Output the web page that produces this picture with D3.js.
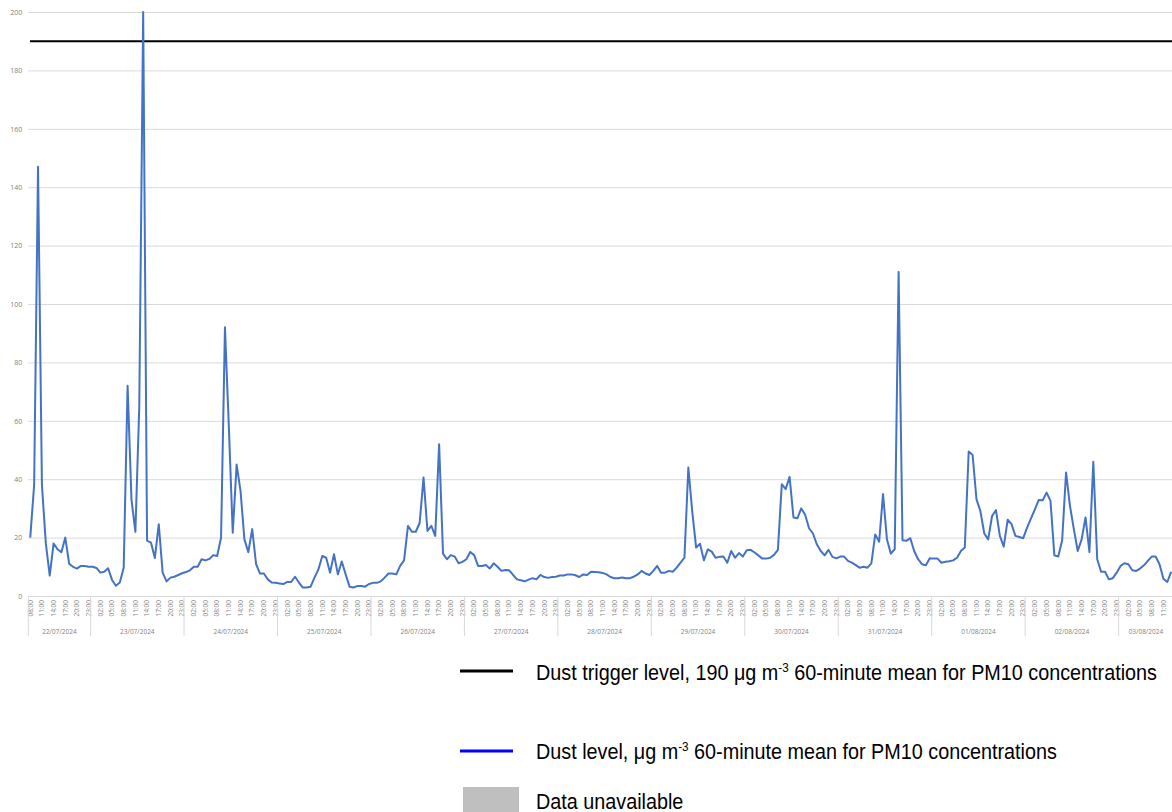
<!DOCTYPE html>
<html>
<head>
<meta charset="utf-8">
<script src="https://cdn.jsdelivr.net/npm/d3@7"></script>
<style>
  body { margin: 0; background: #fff; }
  svg text { font-family: "Open Sans", "Liberation Sans", sans-serif; }
  .legend text { font-family: "Liberation Sans", Arial, sans-serif; }
</style>
</head>
<body>
<div id="container"></div>
<script>
// categories: one point per hour, 22/07/2024 08:00 -> 03/08/2024 13:00
const days = ["22/07/2024","23/07/2024","24/07/2024","25/07/2024","26/07/2024","27/07/2024",
              "28/07/2024","29/07/2024","30/07/2024","31/07/2024","01/08/2024","02/08/2024","03/08/2024"];
const firstHour = 8;            // first day starts at 08:00
const hoursPerDay = [16,24,24,24,24,24,24,24,24,24,24,24,14];
const hourLabelEvery = 3;

// PM10 60-minute mean (ug/m3), hour by hour
const dustLevel = [
  // 22/07
  20, 38, 147, 38, 18, 7, 18, 16, 15, 20, 11, 10, 9.4, 10.3, 10.3, 10,
  // 23/07
  10, 9.6, 8, 8.3, 9.5, 5.5, 3.5, 4.6, 9.7, 72, 33, 22, 65, 200, 19, 18.3,
  13, 24.6, 8, 5, 6.3, 6.6, 7.2, 7.8,
  // 24/07
  8.2, 8.8, 10, 10, 12.6, 12.2, 12.7, 14, 13.7, 20, 92, 58, 21.7, 45, 36, 19.4,
  15, 22.9, 10.9, 7.7, 7.7, 5.7, 4.6, 4.5,
  // 25/07
  4.3, 4.1, 4.8, 4.8, 6.6, 4.6, 2.9, 2.9, 3.2, 6.3, 9.1, 13.7, 13.1, 8, 14.3, 7.4,
  11.8, 7.4, 3.2, 2.9, 3.4, 3.4, 3.2, 4.1,
  // 26/07
  4.5, 4.5, 5, 6.3, 7.7, 7.7, 7.4, 10.3, 12.2, 24, 22, 22, 25, 40.6, 22.3, 24,
  20.6, 52, 14.5, 12.6, 14, 13.5, 11.2, 11.7,
  // 27/07
  12.6, 15.1, 14, 10.3, 10.3, 10.6, 9.4, 11.2, 10, 8.6, 8.9, 8.8, 7.2, 5.7, 5.4, 5,
  5.6, 6.1, 5.7, 7.2, 6.5, 6.2, 6.5, 6.6,
  // 28/07
  7, 7, 7.4, 7.4, 7.1, 6.5, 7.4, 7.2, 8.3, 8.2, 8.1, 7.9, 7.4, 6.5, 6.1, 6.1,
  6.3, 6.1, 6.1, 6.6, 7.4, 8.6, 7.7, 7.2,
  // 29/07
  8.6, 10.3, 8, 8, 8.6, 8.3, 9.7, 11.4, 13.1, 44, 29, 16.6, 17.9, 12.2, 16, 15.2,
  13.1, 13.4, 13.5, 11.4, 15.4, 13.1, 14.7, 13.5,
  // 30/07
  15.7, 15.8, 14.9, 13.9, 12.8, 12.8, 13.1, 14.1, 15.8, 38.3, 36.6, 40.8, 26.9, 26.6, 30, 27.8,
  23.2, 21.4, 17.7, 15.4, 13.9, 15.8, 13.4, 12.9,
  // 31/07
  13.5, 13.5, 12, 11.4, 10.6, 9.7, 10, 9.7, 11.2, 21.1, 18.6, 34.9, 19.4, 14.5, 16, 111,
  19.1, 18.9, 19.8, 15.4, 12.6, 10.9, 10.5, 12.9,
  // 01/08
  12.8, 12.8, 11.4, 11.7, 11.9, 12.2, 13.1, 15.4, 16.6, 49.5, 48.3, 33.1, 29.1, 21.4, 19.4, 27.4,
  29.4, 20.6, 16.9, 26.1, 24.6, 20.6, 20.2, 19.8,
  // 02/08
  23.4, 26.6, 29.7, 32.9, 32.8, 35.4, 32.6, 13.9, 13.5, 19.1, 42.3, 30.9, 22.9, 15.4, 19.4, 26.9,
  15.1, 46, 12.6, 8.3, 8.3, 5.7, 6.1, 8,
  // 03/08
  10.3, 11.2, 10.9, 8.8, 8.6, 9.4, 10.5, 12, 13.5, 13.5, 10.9, 5.9, 4.8, 8.3
];
const triggerLevel = 190;
const yTicks = [0,20,40,60,80,100,120,140,160,180,200];

const width = 1172, height = 812;
const plotLeft = 28.3, step = 3.894, plotTop = 12, plotBottom = 596;

// hour label for index i
const pad = n => (n < 10 ? "0" : "") + n;
const hourOf = i => (firstHour + i) % 24;
const idx = d3.range(dustLevel.length);

const svg = d3.select("#container")
  .append("svg")
    .attr("width", width)
    .attr("height", height)
    .attr("viewBox", "0 0 " + width + " " + height);

const x = d3.scaleBand()
  .domain(idx)
  .range([plotLeft, plotLeft + step * idx.length]);
const y = d3.scaleLinear()
  .domain([0, 200])
  .range([plotBottom, plotTop]);

// grid + y labels
const yAxis = svg.append("g")
  .attr("transform", "translate(" + plotLeft + ",0)")
  .call(d3.axisLeft(y).tickValues(yTicks).tickSize(-(width - plotLeft)).tickPadding(6).tickFormat(d3.format("d")));
yAxis.select(".domain").remove();
yAxis.selectAll(".tick line").attr("stroke", "#d9d9d9").attr("stroke-width", 1);
yAxis.selectAll(".tick text").attr("fill", "#7f7f7f").style("font-size", "7px");

// hour labels, every 3rd hour
const xAxis = svg.append("g")
  .attr("transform", "translate(0," + plotBottom + ")")
  .call(d3.axisBottom(x)
    .tickValues(idx.filter(i => i % hourLabelEvery === 0))
    .tickSize(0)
    .tickFormat(i => pad(hourOf(i)) + ":00"));
xAxis.select(".domain").attr("stroke", "#d9d9d9");
xAxis.selectAll(".tick text")
  .attr("transform", "rotate(-90)")
  .attr("text-anchor", "end")
  .attr("x", -4)
  .attr("y", 0)
  .attr("dy", "0.35em")
  .attr("fill", "#7f7f7f")
  .style("font-size", "6.5px");

// day groups
const dayStart = [];
hoursPerDay.reduce((acc, n) => { dayStart.push(acc); return acc + n; }, 0);
const bounds = dayStart.concat([idx.length]);
svg.append("g")
    .attr("stroke", "#d9d9d9")
  .selectAll("line")
  .data(bounds)
  .join("line")
    .attr("x1", b => plotLeft + b * step)
    .attr("x2", b => plotLeft + b * step)
    .attr("y1", plotBottom)
    .attr("y2", plotBottom + 40);
svg.append("g")
  .selectAll("text")
  .data(days)
  .join("text")
    .attr("x", (d, i) => plotLeft + (dayStart[i] + hoursPerDay[i] / 2) * step)
    .attr("y", plotBottom + 37.5)
    .attr("text-anchor", "middle")
    .attr("fill", "#7f7f7f")
    .style("font-size", "6.5px")
    .text(d => d);

// trigger level
svg.append("line")
  .attr("x1", 30)
  .attr("x2", width)
  .attr("y1", y(triggerLevel))
  .attr("y2", y(triggerLevel))
  .attr("stroke", "#000")
  .attr("stroke-width", 2);

// dust level
const line = d3.line()
  .x(i => x(i) + x.bandwidth() / 2)
  .y(i => y(dustLevel[i]));
svg.append("path")
  .datum(idx)
  .attr("fill", "none")
  .attr("stroke", "#4472c4")
  .attr("stroke-width", 2)
  .attr("stroke-linejoin", "round")
  .attr("d", line);

// legend (narrow face squeezed from Liberation Sans)
const legend = svg.append("g").attr("class", "legend");
const lx = 536;
function legendText(yy, before, after) {
  const t = legend.append("text")
    .attr("transform", "translate(" + lx + "," + yy + ") scale(0.9,1)")
    .attr("fill", "#000")
    .style("font-size", "22px");
  t.append("tspan").text(before);
  if (after !== undefined) {
    t.append("tspan").attr("dy", -8).style("font-size", "13px").text("-3");
    t.append("tspan").attr("dy", 8).text(after);
  }
  return t;
}
legend.append("line")
  .attr("x1", 460).attr("x2", 513).attr("y1", 671).attr("y2", 671)
  .attr("stroke", "#000").attr("stroke-width", 3);
legendText(680, "Dust trigger level, 190 \u03bcg m", " 60-minute mean for PM10 concentrations");
legend.append("line")
  .attr("x1", 460).attr("x2", 513).attr("y1", 751).attr("y2", 751)
  .attr("stroke", "#0000ff").attr("stroke-width", 3);
legendText(759, "Dust level, \u03bcg m", " 60-minute mean for PM10 concentrations");
legend.append("rect")
  .attr("x", 463).attr("y", 787).attr("width", 56).attr("height", 25)
  .attr("fill", "#bfbfbf");
legendText(809, "Data unavailable");
</script>
</body>
</html>
